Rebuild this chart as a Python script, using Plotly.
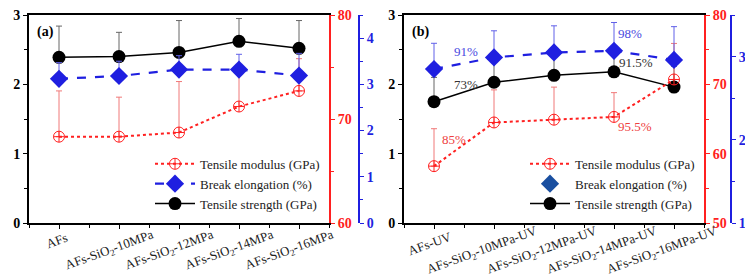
import plotly.graph_objects as go

# ---------------- data ----------------
cats_a = ["AFs", "AFs-SiO<sub>2</sub>-10MPa", "AFs-SiO<sub>2</sub>-12MPa",
          "AFs-SiO<sub>2</sub>-14MPa", "AFs-SiO<sub>2</sub>-16MPa"]
cats_b = ["AFs-UV", "AFs-SiO<sub>2</sub>-10MPa-UV", "AFs-SiO<sub>2</sub>-12MPa-UV",
          "AFs-SiO<sub>2</sub>-14MPa-UV", "AFs-SiO<sub>2</sub>-16MPa-UV"]

# panel (a)
strength_a = [2.39, 2.40, 2.46, 2.62, 2.52]          # GPa, left axis
strength_a_err = [0.45, 0.35, 0.46, 0.33, 0.40]
elong_a = [3.12, 3.18, 3.32, 3.32, 3.19]              # %, blue axis
elong_a_err = [0.35, 0.32, 0.30, 0.33, 0.48]
modulus_a = [68.3, 68.3, 68.7, 71.2, 72.7]            # GPa, red axis
modulus_a_err = [4.4, 3.8, 4.9, 3.3, 3.1]

# panel (b)
strength_b = [1.75, 2.03, 2.13, 2.18, 1.96]
strength_b_err = [0.35, 0.42, 0.40, 0.27, 0.30]
elong_b = [2.85, 2.99, 3.05, 3.07, 2.96]
elong_b_err = [0.31, 0.32, 0.32, 0.34, 0.40]
modulus_b = [58.2, 64.5, 64.9, 65.3, 70.7]
modulus_b_err = [5.4, 4.7, 4.7, 3.5, 5.2]

xs = [0, 1, 2, 3, 4]

SERIF = "Liberation Serif"
RED = "#ff2020"
BLUE = "#1f1fe0"

fig = go.Figure()

def add_panel(xaxis, y_str, y_mod, y_el, strength, s_err, elong, e_err, modulus, m_err,
              legend, elong_legend_line):
    # modulus (red)
    fig.add_trace(go.Scatter(
        x=xs, y=modulus, xaxis=xaxis, yaxis=y_mod, name="Tensile modulus (GPa)",
        mode="lines+markers", legend=legend, legendrank=1,
        line=dict(color=RED, width=2, dash="dot"),
        marker=dict(symbol="circle-cross-open", size=11, color=RED, line=dict(width=1)),
        error_y=dict(type="data", symmetric=False, array=m_err, arrayminus=[0] * 5,
                     color="#f07878", thickness=1, width=3)))
    # elongation (blue)
    fig.add_trace(go.Scatter(
        x=xs, y=elong, xaxis=xaxis, yaxis=y_el, name="Break elongation (%)",
        mode="lines+markers", legend=legend, legendrank=2, showlegend=elong_legend_line,
        line=dict(color=BLUE, width=2.2, dash="dash"),
        marker=dict(symbol="diamond", size=14, color=BLUE),
        error_y=dict(type="data", symmetric=False, array=e_err, arrayminus=[0] * 5,
                     color="#6060e8", thickness=1, width=3)))
    if not elong_legend_line:
        fig.add_trace(go.Scatter(
            x=[None], y=[None], xaxis=xaxis, yaxis=y_el, name="Break elongation (%)",
            mode="markers", legend=legend, legendrank=2,
            marker=dict(symbol="diamond", size=14, color="#1a4fa0")))
    # strength (black)
    fig.add_trace(go.Scatter(
        x=xs, y=strength, xaxis=xaxis, yaxis=y_str, name="Tensile strength (GPa)",
        mode="lines+markers", legend=legend, legendrank=3,
        line=dict(color="black", width=1.5),
        marker=dict(symbol="circle", size=13, color="black"),
        error_y=dict(type="data", symmetric=False, array=s_err, arrayminus=[0] * 5,
                     color="#666666", thickness=1, width=3)))

add_panel("x", "y", "y2", "y3", strength_a, strength_a_err, elong_a, elong_a_err,
          modulus_a, modulus_a_err, "legend", True)
add_panel("x2", "y4", "y5", "y6", strength_b, strength_b_err, elong_b, elong_b_err,
          modulus_b, modulus_b_err, "legend2", False)

# the page body adds an 8 px offset, so the figure is 8 px smaller and margins shifted
OFF = 8
L, R, T, B = 29 - OFF, 21, 15 - OFF, 54
FW, FH = 753 - OFF, 277 - OFF
W = FW - L - R
def px(p):
    return (p - OFF - L) / W

tickfont_b = lambda c: dict(family=SERIF, size=14, color=c, weight="bold")

def xaxis_def(dom):
    return dict(domain=dom, range=[-0.5, 4.5], tickmode="array", tickvals=xs,
                showticklabels=False,
                showline=True, linecolor="black", linewidth=2, mirror=True, automargin=False,
                ticks="outside", ticklen=4, tickcolor="black", showgrid=False, zeroline=False,
                minor=dict(tickmode="linear", tick0=0.5, dtick=1, ticks="outside", ticklen=3,
                           tickcolor="black"))

def yleft(anchor):
    return dict(anchor=anchor, range=[0, 3], tickvals=[0, 1, 2, 3], tickfont=tickfont_b("black"),
                showline=True, linecolor="black", linewidth=2, ticks="outside", ticklen=4,
                tickcolor="black", showgrid=False, zeroline=False, automargin=False,
                ticklabeloverflow="allow",
                minor=dict(tickmode="linear", tick0=0, dtick=0.5, ticks="outside", ticklen=3,
                           tickcolor="black"))

def yright(overlay, anchor, rng, dtick, mdt, color, position=None):
    d = dict(overlaying=overlay, side="right", range=rng, tickmode="linear", tick0=rng[0],
             dtick=dtick, tickfont=tickfont_b(color), showline=True, linecolor=color,
             linewidth=2, ticks="outside", ticklen=4, tickcolor=color, showgrid=False,
             zeroline=False, automargin=False, ticklabeloverflow="allow",
             minor=dict(tickmode="linear", tick0=rng[0], dtick=mdt, ticks="outside",
                        ticklen=3, tickcolor=color))
    if position is None:
        d["anchor"] = anchor
    else:
        d["anchor"] = "free"
        d["position"] = position
    return d

fig.update_layout(
    width=FW, height=FH,
    margin=dict(l=L, r=R, t=T, b=B, autoexpand=False),
    paper_bgcolor="white", plot_bgcolor="white",
    font=dict(family=SERIF, size=13, color="black"),
    xaxis=xaxis_def([0, px(329)]),
    xaxis2=xaxis_def([px(404), px(704)]),
    yaxis=yleft("x"),
    yaxis2=yright("y", "x", [60, 80], 10, 5, RED),
    yaxis3=yright("y", None, [0, 4.5], 1, 0.5, BLUE, position=px(359)),
    yaxis4=yleft("x2"),
    yaxis5=yright("y4", "x2", [50, 80], 10, 5, RED),
    yaxis6=yright("y4", None, [1, 3.5], 1, 0.5, BLUE, position=px(731)),
    legend=dict(x=px(325), xanchor="right", y=0.02, yanchor="bottom",
                bgcolor="rgba(0,0,0,0)", font=dict(family=SERIF, size=13, color="#222"),
                traceorder="normal", tracegroupgap=0, itemwidth=40),
    legend2=dict(x=px(700), xanchor="right", y=0.02, yanchor="bottom",
                 bgcolor="rgba(0,0,0,0)", font=dict(family=SERIF, size=13, color="#222"),
                 traceorder="normal", tracegroupgap=0, itemwidth=40),
)

# rotated category labels, centred just below each category tick
def plain_len(s):
    return len(s.replace("<sub>", "").replace("</sub>", ""))

for xref, yref, cats in (("x", "y domain", cats_a), ("x2", "y4 domain", cats_b)):
    for i, c in zip(xs, cats):
        n = plain_len(c)
        ys = max(0, 10 - n) * 0.8 - (4 if n > 10 else 0)
        fig.add_annotation(text=c, x=i, y=-0.112, xref=xref, yref=yref,
                           xanchor="center", yanchor="middle", textangle=-20,
                           xshift=-0.7 * n, yshift=ys, showarrow=False,
                           font=dict(family=SERIF, size=13, color="#222"))

# panel labels
fig.add_annotation(text="(a)", xref="x domain", yref="y domain", x=0.02, y=0.92,
                   xanchor="left", yanchor="middle", showarrow=False,
                   font=dict(family=SERIF, size=14, color="black", weight="bold"))
fig.add_annotation(text="(b)", xref="x2 domain", yref="y4 domain", x=0.02, y=0.92,
                   xanchor="left", yanchor="middle", showarrow=False,
                   font=dict(family=SERIF, size=14, color="black", weight="bold"))

# retention labels in (b)
pct_text = ["91%", "73%", "98%", "91.5%", "85%", "95.5%"]
pct_x = [0.3, 0.3, 3.03, 3.05, 0.1, 3.03]
pct_y = [2.47, 2.0, 2.74, 2.31, 1.20, 1.385]
pct_col = ["#4848e0", "#333333", "#4848e0", "#333333", "#ee4040", "#ee4040"]
for t, xv, yv, c in zip(pct_text, pct_x, pct_y, pct_col):
    fig.add_annotation(text=t, x=xv, y=yv, xref="x2", yref="y4", xanchor="left",
                       yanchor="middle", showarrow=False,
                       font=dict(family=SERIF, size=13, color=c))

fig.write_html("out.html")
